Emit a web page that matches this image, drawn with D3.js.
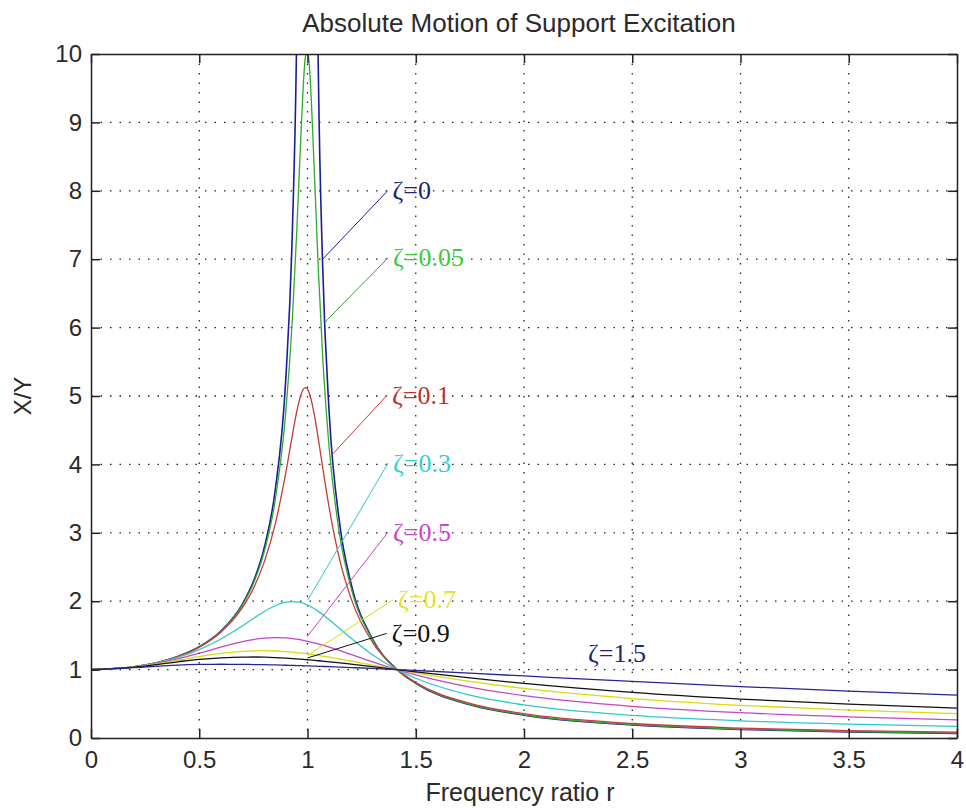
<!DOCTYPE html>
<html>
<head>
<meta charset="utf-8">
<script src="https://cdn.jsdelivr.net/npm/d3@7"></script>
<style>
  html, body { margin: 0; padding: 0; background: #fff; }
  svg { display: block; }
  text { font-family: "Liberation Sans", Arial, Helvetica, sans-serif; }
</style>
</head>
<body>
<svg id="chart" width="966" height="811"></svg>
<script>
// ---------------- data ----------------
const title = "Absolute Motion of Support Excitation";
const xLabel = "Frequency ratio r";
const yLabel = "X/Y";
const xTicks = [0, 0.5, 1, 1.5, 2, 2.5, 3, 3.5, 4];
const xTickLabels = ["0", "0.5", "1", "1.5", "2", "2.5", "3", "3.5", "4"];
const yTicks = [0, 1, 2, 3, 4, 5, 6, 7, 8, 9, 10];
const yTickLabels = ["0", "1", "2", "3", "4", "5", "6", "7", "8", "9", "10"];

// frequency ratio r (shared by all series)
const rValues = [0, 0.2, 0.4, 0.5, 0.6, 0.7, 0.75, 0.8, 0.85, 0.9, 0.93, 0.95, 0.97, 0.99, 1.0,
                 1.01, 1.03, 1.05, 1.07, 1.1, 1.15, 1.2, 1.3, 1.4142, 1.5, 1.75, 2.0, 2.5, 3.0, 3.5, 4.0];

const zetaLabels = ["ζ=0", "ζ=0.05", "ζ=0.1", "ζ=0.3", "ζ=0.5", "ζ=0.7", "ζ=0.9", "ζ=1.5"];

const zeta0 = [1, 1.0417, 1.1905, 1.3333, 1.5625, 1.9608, 2.2857, 2.7778, 3.6036, 5.2632, 7.4019, 10.256, 16.92, 50.25, null,
               49.75, 16.42, 9.756, 6.901, 4.7619, 3.1008, 2.2727, 1.4493, 1.0, 0.8, 0.4848, 0.3333, 0.1905, 0.125, 0.0889, 0.0667];
const zeta005 = [1, 1.0416, 1.1901, 1.3320, 1.5585, 1.9473, 2.2591, 2.7203, 3.4579, 4.7757, 6.1233, 7.379, 8.845, 9.951, 10.05,
                 9.760, 8.401, 6.853, 5.583, 4.2437, 2.9398, 2.2084, 1.4362, 1.0, 0.8032, 0.4905, 0.3392, 0.1961, 0.1304, 0.0941, 0.0718];
const zeta01 = [1, 1.0416, 1.1889, 1.3282, 1.5468, 1.9093, 2.1863, 2.5707, 3.1168, 3.8822, 4.4246, 4.7664, 5.0228, 5.1228, 5.099,
                5.0257, 4.7529, 4.3727, 3.9570, 3.3666, 2.5904, 2.0519, 1.4013, 1.0, 0.8122, 0.5064, 0.3559, 0.2120, 0.1454, 0.1083, 0.0853];
const zeta03 = [1, 1.0410, 1.1772, 1.2925, 1.4474, 1.6417, 1.7472, 1.8487, 1.9334, 1.9853, 1.9946, 1.9905, 1.9779, 1.9570, 1.9437,
                1.9285, 1.8930, 1.8517, 1.8056, 1.7299, 1.5952, 1.4603, 1.2178, 1.0, 0.8734, 0.6265, 0.4834, 0.3302, 0.2511, 0.2032, 0.1712];
const zeta05 = [1, 1.0400, 1.1576, 1.2403, 1.3293, 1.4094, 1.4396, 1.4598, 1.4678, 1.4626, 1.4532, 1.4443, 1.4336, 1.4211, 1.4142,
                1.4070, 1.3913, 1.3744, 1.3564, 1.3275, 1.2760, 1.2221, 1.1144, 1.0, 0.9233, 0.7452, 0.6202, 0.4631, 0.3701, 0.3090, 0.2656];
const zeta07 = [1, 1.0385, 1.1353, 1.1898, 1.2367, 1.2674, 1.2747, 1.2763, 1.2721, 1.2624, 1.2542, 1.2478, 1.2407, 1.2330, 1.2289,
                1.2247, 1.2158, 1.2065, 1.1968, 1.1814, 1.1543, 1.1258, 1.0669, 1.0, 0.9518, 0.8263, 0.7245, 0.5769, 0.4778, 0.4076, 0.3553];
const zeta09 = [1, 1.0366, 1.1138, 1.1484, 1.1724, 1.1834, 1.1839, 1.1811, 1.1755, 1.1672, 1.1611, 1.1566, 1.1517, 1.1466, 1.1440,
                1.1412, 1.1356, 1.1297, 1.1236, 1.1141, 1.0973, 1.0798, 1.0431, 1.0, 0.9677, 0.8778, 0.7973, 0.6667, 0.5690, 0.4947, 0.4369];
const zeta15 = [1, 1.0301, 1.0664, 1.0750, 1.0779, 1.0763, 1.0742, 1.0713, 1.0678, 1.0638, 1.0610, 1.0592, 1.0572, 1.0551, 1.0541,
                1.0530, 1.0509, 1.0486, 1.0463, 1.0428, 1.0366, 1.0302, 1.0166, 1.0, 0.9870, 0.9475, 0.9068, 0.8265, 0.7520, 0.6854, 0.6269];

// annotation anchors in data coordinates: [r, X/Y] of the leader start, leader end
const annFrom = [[1.07, 7.0], [1.081, 6.08], [1.113, 4.14], [1.002, 2.02], [0.998, 1.48], [1.002, 1.21], [1.0, 1.17], null];
const annTo   = [[1.37, 8.0], [1.372, 7.02], [1.367, 5.01], [1.372, 4.02], [1.372, 3.01], [1.395, 2.02], [1.366, 1.53], [2.296, 1.24]];

// ---------------- styling ----------------
const seriesValues = [zeta0, zeta005, zeta01, zeta03, zeta05, zeta07, zeta09, zeta15];
const lineColors  = ["#1c1c9a", "#2faa2f", "#c83a3a", "#2ec8c8", "#c545c5", "#dada10", "#111111", "#262690"];
const labelColors = ["#20207a", "#38cc38", "#c03030", "#33d0d0", "#cc44cc", "#e2e230", "#111111", "#22227a"];

const W = 966, H = 811;
const M = { left: 91, right: 957, top: 54, bottom: 738 };

const svg = d3.select("#chart");
svg.append("rect").attr("width", W).attr("height", H).attr("fill", "#fff");

const x = d3.scaleLinear().domain([0, 4]).range([M.left, M.right]);
const y = d3.scaleLinear().domain([0, 10]).range([M.bottom, M.top]);

// grid
const grid = svg.append("g").attr("stroke", "#222").attr("stroke-width", 1.3)
  .attr("stroke-dasharray", "1.5,8").attr("fill", "none");
grid.selectAll("line.gx").data(xTicks.slice(1, -1)).join("line")
  .attr("x1", d => x(d)).attr("x2", d => x(d)).attr("y1", M.top).attr("y2", M.bottom);
grid.selectAll("line.gy").data(yTicks.slice(1, -1)).join("line")
  .attr("y1", d => y(d)).attr("y2", d => y(d)).attr("x1", M.left).attr("x2", M.right);

// clip
svg.append("clipPath").attr("id", "plotclip").append("rect")
  .attr("x", M.left).attr("y", M.top).attr("width", M.right - M.left).attr("height", M.bottom - M.top);

const line = d3.line()
  .defined(d => d[1] != null)
  .x(d => x(d[0])).y(d => y(d[1]))
  .curve(d3.curveMonotoneX);

const plot = svg.append("g").attr("clip-path", "url(#plotclip)");
seriesValues.forEach((vals, i) => {
  const pts = rValues.map((r, j) => [r, vals[j]]);
  plot.append("path")
    .attr("d", line(pts))
    .attr("fill", "none")
    .attr("stroke", lineColors[i])
    .attr("stroke-width", i === 0 ? 1.6 : 1.3);
});

// annotations
const ann = svg.append("g");
zetaLabels.forEach((lab, i) => {
  if (annFrom[i]) {
    ann.append("line")
      .attr("x1", x(annFrom[i][0])).attr("y1", y(annFrom[i][1]))
      .attr("x2", x(annTo[i][0])).attr("y2", y(annTo[i][1]))
      .attr("stroke", lineColors[i]).attr("stroke-width", 1);
  }
  ann.append("text")
    .attr("x", x(annTo[i][0]) + (annFrom[i] ? 5 : 0))
    .attr("y", y(annTo[i][1]))
    .attr("dy", "0.33em")
    .attr("fill", labelColors[i])
    .style("font-family", "'Liberation Serif', 'Times New Roman', serif")
    .style("font-size", "26px")
    .text(lab);
});

// axes
const tickLen = 9;
const axB = d3.axisBottom(x).tickValues(xTicks).tickFormat((d, i) => xTickLabels[i]).tickSizeInner(-tickLen).tickSizeOuter(0).tickPadding(13);
const axT = d3.axisTop(x).tickValues(xTicks).tickFormat("").tickSizeInner(-tickLen).tickSizeOuter(0);
const axL = d3.axisLeft(y).tickValues(yTicks).tickFormat((d, i) => yTickLabels[i]).tickSizeInner(-tickLen).tickSizeOuter(0).tickPadding(9);
const axR = d3.axisRight(y).tickValues(yTicks).tickFormat("").tickSizeInner(-tickLen).tickSizeOuter(0);

function styleAxis(g) {
  g.select(".domain").attr("stroke", "#222").attr("stroke-width", 1.5);
  g.selectAll(".tick line").attr("stroke", "#222").attr("stroke-width", 1.5);
  g.selectAll(".tick text").attr("fill", "#2a2a2a").style("font-size", "24px")
    .style("font-family", "'Liberation Sans', Arial, sans-serif");
}
svg.append("g").attr("transform", `translate(0,${M.bottom})`).call(axB).call(styleAxis);
svg.append("g").attr("transform", `translate(0,${M.top})`).call(axT).call(styleAxis);
svg.append("g").attr("transform", `translate(${M.left},0)`).call(axL).call(styleAxis);
svg.append("g").attr("transform", `translate(${M.right},0)`).call(axR).call(styleAxis);

// titles
svg.append("text").attr("x", 519).attr("y", 32)
  .attr("text-anchor", "middle").attr("fill", "#2a2a2a").style("font-size", "26px").text(title);
svg.append("text").attr("x", 520).attr("y", 801)
  .attr("text-anchor", "middle").attr("fill", "#2a2a2a").style("font-size", "25px").text(xLabel);
svg.append("text").attr("transform", `translate(31,${(M.top + M.bottom) / 2}) rotate(-90)`)
  .attr("text-anchor", "middle").attr("fill", "#2a2a2a").style("font-size", "24px").text(yLabel);
</script>
</body>
</html>
